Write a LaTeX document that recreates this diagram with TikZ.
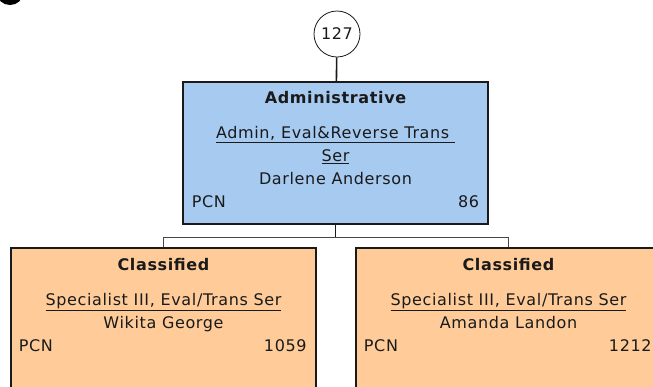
\documentclass[tikz,border=0pt]{standalone}
\usepackage{fontspec}
\setmainfont{DejaVu Sans}[LetterSpace=4]
\usetikzlibrary{positioning,calc}
\definecolor{Ink}{HTML}{1A1A1A}
\definecolor{AdminBlue}{HTML}{A6CAF0}
\definecolor{ClassOrange}{HTML}{FFCC99}
\tikzset{
  posbox/.style={draw=Ink,line width=1.6pt,minimum width=305pt,inner sep=0pt},
  adminbox/.style={posbox,fill=AdminBlue,minimum height=142pt},
  classbox/.style={posbox,fill=ClassOrange,minimum height=170pt},
  txt/.style={font=\fontsize{16}{19}\selectfont,inner sep=0pt,text=Ink},
  head/.style={txt,font=\fontsize{16}{19}\selectfont\bfseries},
  link/.style={line width=1.6pt,draw=Ink},
  bus/.style={line width=1.3pt,draw=Ink!80}
}
\begin{document}
\begin{tikzpicture}[x=1pt,y=-1pt]
\useasboundingbox (0,0) rectangle (653,386);
\clip (0,0) rectangle (653,386);
\fill[black] (10,-7) ellipse (13 and 12);
% count circle
\node[draw=Ink,line width=0.8pt,circle,minimum size=46pt,inner sep=0pt,fill=white,txt] (count) at (337,34) {127};
% boxes
\node[adminbox,anchor=north] (admin) at (335.5,81) {};
\node[classbox,anchor=north] (left) at (163.5,247) {};
\node[classbox,anchor=north] (right) at (508.5,247) {};
% admin box texts
\node[head,anchor=base] (admintitle) at ($(admin.north)+(0,22.5)$) {Administrative};
\node[txt,anchor=base] (adminjob) at ($(admin.north)+(0,57.5)$) {\underline{Admin, Eval\&Reverse Trans\ }};
\node[txt,anchor=base] (adminjob2) at ($(admin.north)+(0,80.5)$) {\underline{Ser}};
\node[txt,anchor=base] (adminname) at ($(admin.north)+(0,103.5)$) {Darlene Anderson};
\node[txt,anchor=base west] (adminpcn) at ($(admin.north west)+(9.5,126.5)$) {PCN};
\node[txt,anchor=base east] (adminnum) at ($(admin.north east)+(-9.5,126.5)$) {86};
% classified box texts
\foreach \b/\who/\num in {left/Wikita George/1059,right/Amanda Landon/1212}{
  \node[head,anchor=base] (\b title) at ($(\b.north)+(0,23)$) {Classified};
  \node[txt,anchor=base] (\b job) at ($(\b.north)+(0,58)$) {\underline{Specialist III, Eval/Trans Ser}};
  \node[txt,anchor=base] (\b name) at ($(\b.north)+(0,81)$) {\who};
  \node[txt,anchor=base west] (\b pcn) at ($(\b.north west)+(8.5,104)$) {PCN};
  \node[txt,anchor=base east] (\b num) at ($(\b.north east)+(-10,104)$) {\num};
}
% connectors
\draw[link] (count) -- (admin);
\coordinate (split) at ($(admin.south)+(0,13)$);
\draw[link] (admin.south) -- (split);
\draw[bus] (split) -| (left.north);
\draw[bus] (split) -| (right.north);
\end{tikzpicture}
\end{document}
